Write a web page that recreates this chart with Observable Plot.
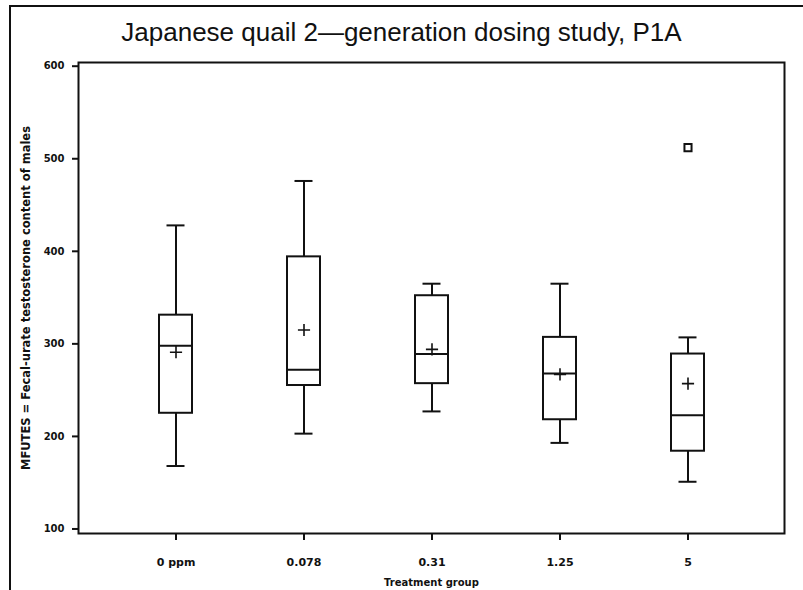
<!DOCTYPE html>
<html>
<head>
<meta charset="utf-8">
<script src="https://cdn.jsdelivr.net/npm/d3@7"></script>
<script src="https://cdn.jsdelivr.net/npm/@observablehq/plot@0.6"></script>
<style>
  html, body { margin: 0; padding: 0; background: #fff; }
  #page { position: relative; width: 803px; height: 590px; overflow: hidden; background: #fff; }
  #border { position: absolute; left: 9px; top: 5px; width: 820px; height: 620px;
            border-left: 2px solid #111; border-top: 2px solid #111; }
  #title { position: absolute; left: 0; top: 19px; width: 803px; text-align: center;
           font: 26px "Liberation Sans", Arial, sans-serif; line-height: 26px; color: #111; }
  #chart { position: absolute; left: 0; top: 0; }
</style>
</head>
<body>
<div id="page">
  <div id="border"></div>
  <div id="chart"></div>
  <div id="title">Japanese quail 2—generation dosing study, P1A</div>
</div>
<script>
// Treatment groups and box-plot summaries of MFUTES per group
const groups      = ["0 ppm", "0.078", "0.31", "1.25", "5"];
const whiskerLow  = [168, 203, 227, 193, 151];
const quartile1   = [225, 255, 257, 218, 184];
const medians     = [298, 272, 289, 268, 223];
const quartile3   = [331, 394, 352, 307, 289];
const whiskerHigh = [428, 476, 365, 365, 307];
const means       = [291, 315, 294, 267, 257];
const outlierGroup = ["5"];
const outlierValue = [512];
const yTicks = [100, 200, 300, 400, 500, 600];
const xTitle = "Treatment group";
const yTitle = "MFUTES = Fecal-urate testosterone content of males";

const rows = groups.map((g, i) => ({
  group: g, low: whiskerLow[i], q1: quartile1[i], median: medians[i],
  q3: quartile3[i], high: whiskerHigh[i], mean: means[i]
}));
const outliers = outlierGroup.map((g, i) => ({group: g, value: outlierValue[i]}));

const ink = "#111";
const chart = Plot.plot({
  width: 803,
  height: 590,
  marginLeft: 78,
  marginRight: 19,
  marginTop: 62,
  marginBottom: 57,
  style: {fontFamily: "'DejaVu Sans', sans-serif", fontSize: "10px", fontWeight: "bold",
          color: ink, background: "transparent", overflow: "visible"},
  x: {type: "band", domain: groups, paddingInner: 0.744, paddingOuter: 0.617, align: 0.5},
  y: {domain: [95.1, 604]},
  marks: [
    Plot.frame({stroke: ink, strokeWidth: 2}),
    Plot.axisY({ticks: yTicks, tickSize: 6, tickPadding: 8, strokeWidth: 2,
                tickFormat: d => String(d), label: null}),
    Plot.axisX({tickSize: 7, tickPadding: 18, strokeWidth: 2, fontSize: 11, label: null}),
    // axis titles
    Plot.text([yTitle], {text: d => d, frameAnchor: "left", rotate: -90, dx: -57,
                         lineAnchor: "top", textAnchor: "middle", fontSize: 11.5, fill: ink}),
    Plot.text([xTitle], {text: d => d, frameAnchor: "bottom", dy: 52,
                         lineAnchor: "bottom", textAnchor: "middle", fontSize: 10, fill: ink}),
    // whiskers, boxes, medians, caps
    Plot.ruleX(rows, {x: "group", y1: "low", y2: "q1", stroke: ink, strokeWidth: 2}),
    Plot.ruleX(rows, {x: "group", y1: "q3", y2: "high", stroke: ink, strokeWidth: 2}),
    Plot.barY(rows, {x: "group", y1: "q1", y2: "q3", fill: "white", stroke: ink, strokeWidth: 2}),
    Plot.tickY(rows, {x: "group", y: "median", stroke: ink, strokeWidth: 2}),
    Plot.tickY(rows, {x: "group", y: "low", stroke: ink, strokeWidth: 2, insetLeft: 7.5, insetRight: 7.5}),
    Plot.tickY(rows, {x: "group", y: "high", stroke: ink, strokeWidth: 2, insetLeft: 7.5, insetRight: 7.5}),
    // means and outliers
    Plot.dot(rows, {x: "group", y: "mean", symbol: "plus", r: 4, stroke: ink, strokeWidth: 1.6}),
    Plot.dot(outliers, {x: "group", y: "value", symbol: "square", r: 4, fill: "white", stroke: ink, strokeWidth: 2})
  ]
});
document.getElementById("chart").appendChild(chart);
</script>
</body>
</html>
